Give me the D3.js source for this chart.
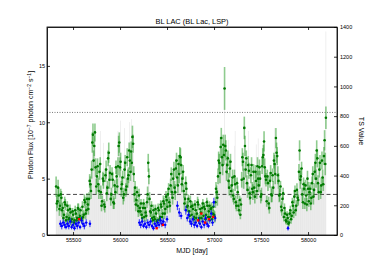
<!DOCTYPE html>
<html lang="en">
<head>
  <meta charset="utf-8">
  <title>BL LAC light curve</title>
  <script src="https://cdnjs.cloudflare.com/ajax/libs/d3/7.8.5/d3.min.js"></script>
  <style>
    body { margin: 0; background: #fff; }
    svg { font-family: "Liberation Sans", Arial, sans-serif; }
    .axis path, .axis line { stroke: #000; stroke-width: 0.8; }
    .axis text { font-size: 5.5px; fill: #000; }
    .lbl { font-size: 7px; fill: #000; }
  </style>
</head>
<body>
<svg id="svg" width="374" height="262"></svg>
<script>
  // green points, first set: MJD bins, flux (1e-7 ph cm-2 s-1), flux error, TS
  var mjd = [55320,55334,55348,55362,55376,55390,55404,55418,55432,55446,
    55460,55474,55488,55502,55516,55530,55544,55558,55572,55586,
    55600,55614,55628,55642,55656,55670,55684,55698,55712,55726,
    55740,55754,55768,55782,55796,55810,55824,55838,55852,55866,
    55880,55894,55908,55922,55936,55950,55964,55978,55992,56006,
    56020,56034,56048,56062,56076,56090,56104,56118,56132,56146,
    56160,56174,56188,56202,56216,56230,56244,56258,56272,56286,
    56300,56314,56328,56342,56356,56370,56384,56398,56412,56426,
    56440,56454,56468,56482,56496,56510,56524,56538,56552,56566,
    56580,56594,56608,56622,56636,56650,56664,56678,56692,56706,
    56720,56734,56748,56762,56776,56790,56804,56818,56832,56846,
    56860,56874,56888,56902,56916,56930,56944,56958,56972,56986,
    57000,57014,57028,57042,57056,57070,57084,57098,57112,57126,
    57140,57154,57168,57182,57196,57210,57224,57238,57252,57266,
    57280,57294,57308,57322,57336,57350,57364,57378,57392,57406,
    57420,57434,57448,57462,57476,57490,57504,57518,57532,57546,
    57560,57574,57588,57602,57616,57630,57644,57658,57672,57686,
    57700,57714,57728,57742,57756,57770,57784,57798,57812,57826,
    57840,57854,57868,57882,57896,57910,57924,57938,57952,57966,
    57980,57994,58008,58022,58036,58050,58064,58078,58092,58106,
    58120,58134,58148,58162,58176,58190];
  var flux = [4.3,3.0,3.5,2.6,3.3,2.4,1.8,2.7,1.6,2.2,
    1.5,2.0,1.4,1.8,1.3,1.9,1.5,2.3,1.7,1.4,
    2.5,1.8,2.9,2.2,2.7,3.2,4.5,5.8,8.9,7.9,
    6.0,5.2,4.5,5.6,3.8,3.0,4.8,2.5,5.8,4.2,
    7.3,5.5,3.6,4.9,2.8,3.8,5.2,6.1,8.2,6.5,
    4.5,3.3,5.8,4.0,6.9,5.3,6.6,7.4,8.7,5.4,
    4.2,3.1,2.6,3.5,2.1,1.8,2.4,1.6,2.0,2.9,
    6.4,3.2,2.0,1.5,2.2,1.4,1.9,1.3,2.2,1.6,
    2.5,1.9,2.8,2.3,3.1,3.6,2.9,4.4,3.8,5.0,
    4.2,5.9,5.1,6.3,7.0,6.2,5.0,3.9,3.2,4.1,
    2.6,2.1,3.0,1.8,2.3,1.6,2.2,1.9,2.7,1.5,
    2.0,2.4,1.7,2.3,1.8,2.6,2.1,1.6,2.4,1.9,
    1.8,2.9,3.8,5.2,6.4,7.8,6.9,8.0,13.0,7.5,
    6.2,4.8,5.9,3.9,5.1,3.2,4.5,2.6,3.8,2.2,
    1.8,4.9,6.5,9.5,5.8,4.6,6.2,3.7,5.3,4.1,
    5.6,3.4,4.8,6.1,4.4,5.0,3.6,6.9,8.3,5.2,
    3.0,4.6,2.4,5.5,3.5,4.2,6.3,8.6,7.0,4.8,
    3.6,2.5,3.2,1.6,1.9,1.2,1.5,1.1,2.2,1.7,
    2.6,3.4,2.2,4.0,3.1,7.5,5.2,3.6,4.5,2.8,
    3.5,5.0,3.0,4.1,3.3,5.4,4.0,6.4,7.5,4.6,
    5.8,3.8,6.6,4.5,8.4,10.4];
  var fluxErr = [0.9,0.6,0.7,0.5,0.6,0.5,0.4,0.5,0.4,0.5,
    0.4,0.4,0.3,0.4,0.3,0.4,0.4,0.5,0.4,0.3,
    0.5,0.4,0.5,0.4,0.5,0.6,0.7,0.8,1.0,0.9,
    0.8,0.7,0.6,0.7,0.6,0.5,0.7,0.5,0.8,0.6,
    0.9,0.7,0.6,0.7,0.5,0.6,0.7,0.8,0.9,0.8,
    0.7,0.6,0.8,0.6,0.8,0.7,0.8,0.9,1.0,0.7,
    0.6,0.5,0.5,0.6,0.4,0.4,0.5,0.4,0.4,0.5,
    0.8,0.6,0.4,0.4,0.5,0.3,0.4,0.3,0.4,0.4,
    0.5,0.4,0.5,0.5,0.5,0.6,0.5,0.6,0.6,0.7,
    0.6,0.8,0.7,0.8,0.8,0.8,0.7,0.6,0.5,0.6,
    0.5,0.4,0.5,0.4,0.5,0.4,0.5,0.4,0.5,0.4,
    0.4,0.5,0.4,0.5,0.4,0.5,0.4,0.4,0.5,0.4,
    0.4,0.5,0.6,0.7,0.8,0.9,0.8,0.9,1.9,0.9,
    0.8,0.7,0.8,0.6,0.7,0.5,0.6,0.5,0.6,0.4,
    0.4,0.7,0.8,1.0,0.7,0.7,0.8,0.6,0.7,0.6,
    0.7,0.6,0.7,0.8,0.6,0.7,0.6,0.8,0.9,0.7,
    0.5,0.7,0.5,0.7,0.6,0.6,0.8,0.9,0.8,0.7,
    0.6,0.5,0.5,0.4,0.4,0.3,0.4,0.3,0.4,0.4,
    0.5,0.6,0.5,0.6,0.5,0.9,0.7,0.6,0.6,0.5,
    0.6,0.7,0.5,0.6,0.5,0.7,0.6,0.8,0.9,0.7,
    0.7,0.6,0.8,0.6,0.9,1.0];
  var tsVal = [300,200,250,170,230,160,120,190,110,150,
    100,140,90,130,80,130,100,170,120,90,
    180,120,210,150,200,240,340,430,690,600,
    450,390,330,420,280,220,620,180,450,310,
    560,410,270,370,200,280,390,700,640,770,
    340,240,720,300,520,400,760,570,680,410,
    310,230,190,260,150,120,170,110,140,210,
    480,230,140,100,160,90,130,80,150,110,
    180,130,200,160,230,270,210,330,280,380,
    310,450,380,480,540,470,370,290,230,300,
    180,140,210,120,160,100,150,130,190,100,
    140,170,110,160,120,180,140,100,170,130,
    120,210,280,390,490,600,530,620,980,570,
    470,640,450,290,380,230,700,180,280,150,
    120,370,500,730,440,340,700,270,400,300,
    420,250,610,470,330,370,260,530,640,390,
    210,340,170,420,250,310,720,660,540,360,
    260,170,230,100,130,70,100,60,150,110,
    180,250,150,300,220,580,390,260,340,200,
    250,380,210,300,240,410,290,490,580,340,
    440,270,510,330,650,1370];

  // green points, second set: bins 7 days after each of the first set
  var flux2 = [2.8,4.2,2.3,3.6,2.2,1.5,2.9,1.3,2.6,1.4,
    2.3,1.2,2.1,1.1,2.2,1.3,2.4,1.5,2.2,1.5,
    1.6,3.1,1.9,3.2,2.3,4.8,3.9,8.2,6.6,9.1,
    4.3,6.1,3.9,6.3,2.6,5.0,2.7,5.3,3.7,6.8,
    4.9,3.2,5.4,2.9,4.4,6.0,4.3,7.9,6.0,4.1,
    5.1,3.6,6.4,4.3,5.0,7.5,5.6,6.4,8.1,3.6,
    2.7,3.8,2.1,2.4,2.8,1.5,2.8,2.4,1.7,3.6,
    5.2,2.1,2.6,1.3,1.6,2.3,1.2,2.4,1.4,2.7,
    1.6,3.0,1.9,3.4,2.5,4.1,2.6,5.4,3.3,5.8,
    3.8,6.6,4.4,5.4,6.9,4.5,5.6,2.8,4.6,2.5,
    3.2,1.7,2.5,2.6,1.4,2.7,1.5,2.9,1.4,2.3,
    1.5,2.8,2.5,1.4,2.9,1.6,2.6,2.3,1.4,2.5,
    1.6,4.1,3.3,6.6,5.5,8.6,6.2,7.1,7.9,5.6,
    6.8,4.2,6.5,4.4,3.5,5.2,2.9,4.6,2.6,3.1,
    2.7,6.9,5.0,7.9,6.8,4.0,5.7,3.3,6.2,3.8,
    4.2,5.6,3.9,5.0,6.0,3.4,6.1,7.1,6.0,4.9,
    5.2,2.8,4.8,3.6,5.3,6.6,5.4,7.3,5.3,3.5,
    4.3,2.2,3.7,2.4,1.3,1.8,1.0,1.9,1.4,2.9,
    2.0,3.9,2.6,3.3,5.6,4.9,5.9,2.9,4.1,4.4,
    2.7,4.1,3.8,2.8,4.6,3.4,5.6,5.0,6.8,3.8,
    6.4,4.4,5.1,7.0,6.3];
  var fluxErr2 = [0.7,0.7,0.6,0.5,0.6,0.4,0.5,0.4,0.4,0.4,
    0.4,0.4,0.3,0.4,0.4,0.4,0.4,0.4,0.3,0.4,
    0.4,0.5,0.5,0.5,0.5,0.6,0.7,0.9,0.9,0.8,
    0.7,0.7,0.7,0.6,0.5,0.6,0.5,0.6,0.7,0.7,
    0.8,0.6,0.6,0.6,0.5,0.6,0.7,0.9,0.9,0.7,
    0.6,0.6,0.7,0.7,0.8,0.7,0.8,0.9,0.8,0.7,
    0.6,0.5,0.5,0.5,0.4,0.4,0.4,0.4,0.5,0.7,
    0.7,0.5,0.4,0.4,0.4,0.4,0.3,0.4,0.4,0.4,
    0.4,0.5,0.5,0.5,0.6,0.5,0.6,0.6,0.6,0.7,
    0.7,0.7,0.7,0.8,0.8,0.7,0.6,0.6,0.6,0.5,
    0.4,0.5,0.5,0.4,0.4,0.4,0.4,0.5,0.4,0.4,
    0.4,0.4,0.4,0.4,0.4,0.5,0.4,0.4,0.4,0.4,
    0.5,0.6,0.7,0.8,0.9,0.9,0.9,0.9,1.0,0.8,
    0.7,0.7,0.7,0.6,0.6,0.6,0.6,0.5,0.5,0.4,
    0.6,0.8,0.9,0.9,0.7,0.7,0.7,0.6,0.7,0.7,
    0.7,0.6,0.7,0.7,0.7,0.6,0.7,0.9,0.8,0.6,
    0.6,0.6,0.6,0.7,0.6,0.7,0.9,0.9,0.8,0.6,
    0.5,0.5,0.5,0.4,0.3,0.3,0.3,0.4,0.4,0.4,
    0.5,0.5,0.5,0.6,0.7,0.8,0.6,0.6,0.6,0.5,
    0.6,0.6,0.6,0.6,0.6,0.7,0.7,0.8,0.8,0.7,
    0.7,0.7,0.7,0.8,1.0];
  var tsVal2 = [200,300,160,250,150,110,210,90,180,100,
    160,80,150,80,160,90,170,110,150,110,
    110,220,130,230,160,340,280,590,470,650,
    300,430,280,700,180,350,190,380,260,490,
    350,230,380,200,310,430,300,570,430,290,
    360,250,460,300,350,540,400,780,580,250,
    190,270,150,170,200,100,200,170,120,250,
    370,150,180,90,110,160,80,170,100,190,
    110,210,130,240,180,290,180,390,230,420,
    270,470,310,390,500,320,400,200,330,180,
    230,120,180,180,100,190,100,210,100,160,
    100,200,180,100,210,110,180,160,100,180,
    110,290,230,480,390,620,450,510,570,400,
    490,300,470,310,250,600,200,330,180,220,
    190,500,360,570,490,280,410,230,450,270,
    300,400,280,650,430,240,440,510,430,350,
    370,200,340,250,380,470,390,530,380,250,
    310,150,260,170,90,130,70,130,100,210,
    140,280,180,230,400,350,420,200,290,310,
    190,290,270,200,330,240,400,360,490,270,
    460,310,360,500,450];

  // blue points
  var blueMjd = [55365,55380,55395,55410,55425,55440,55455,55470,55485,55500,
    55515,55530,55545,55560,55575,55590,55605,55620,55640,55680,
    56205,56220,56235,56250,56265,56280,56295,56310,56325,56340,
    56355,56370,56385,56400,56415,56430,56445,56460,56480,56500,
    56610,56630,56650,56700,56715,56730,56745,56760,56775,56790,
    56805,56820,56835,56850,56865,56880,56895,56910,56925,56940,
    56955,56970,56985,56998,57012,57787];
  var blueFlux = [1.0,0.8,1.1,0.9,0.7,1.0,0.8,1.2,0.7,0.9,
    0.6,1.0,0.8,1.1,0.7,1.3,1.0,0.8,1.1,1.0,
    1.1,0.9,1.2,0.8,1.0,0.7,1.1,0.9,1.2,0.8,
    0.6,1.0,0.8,1.1,0.9,1.3,1.0,1.2,0.9,1.4,
    2.6,2.0,1.7,2.2,1.5,1.8,1.2,1.0,1.4,0.9,
    1.1,0.8,1.3,1.0,0.7,1.2,0.9,1.5,1.0,0.8,
    1.3,1.9,1.1,2.9,1.5,0.6];
  var blueErr = [0.3,0.3,0.3,0.3,0.2,0.3,0.3,0.3,0.2,0.3,
    0.2,0.3,0.3,0.3,0.2,0.3,0.3,0.3,0.3,0.3,
    0.3,0.3,0.3,0.2,0.3,0.2,0.3,0.3,0.3,0.2,
    0.2,0.3,0.2,0.3,0.3,0.3,0.3,0.3,0.3,0.3,
    0.4,0.4,0.3,0.4,0.3,0.3,0.3,0.3,0.3,0.3,
    0.3,0.2,0.3,0.3,0.2,0.3,0.3,0.3,0.3,0.2,
    0.3,0.3,0.3,0.4,0.3,0.2];

  // red points
  var redMjd = [55565,56390,56455,56830,56865,56905,56945,56990];
  var redFlux = [1.4,0.6,0.9,1.3,1.9,1.1,1.4,1.6];

  var meanFlux = 3.6;     // dashed line
  var tsLevel = 825;      // dotted line
  var xTicks = [55500,56000,56500,57000,57500,58000];
  var fluxTicks = [0,5,10,15];
  var tsTicks = [0,200,400,600,800,1000,1200,1400];

  var L = 47, R = 337, T = 27, B = 235;
  var svg = d3.select("#svg");

  var x = d3.scaleLinear().domain([55223, 58308]).range([L, R]);
  var y = d3.scaleLinear().domain([0, 18.45]).range([B, T]);
  var yTs = d3.scaleLinear().domain([0, 1400]).range([B, T]);

  var pts = mjd.map(function (m, i) {
    return { t: m, f: flux[i], e: fluxErr[i], ts: tsVal[i] };
  });
  flux2.forEach(function (f, i) {
    pts.push({ t: mjd[i] + 7, f: f, e: fluxErr2[i], ts: tsVal2[i] });
  });
  pts.sort(function (a, b) { return a.t - b.t; });

  // TS bars
  svg.append("g").selectAll("rect").data(pts).enter().append("rect")
    .attr("x", function (d) { return x(d.t - 2.5); })
    .attr("width", function (d) { return x(d.t + 2.5) - x(d.t - 2.5); })
    .attr("y", function (d) { return yTs(d.ts); })
    .attr("height", function (d) { return B - yTs(d.ts); })
    .attr("fill", "#dcdcdc");

  // reference lines
  svg.append("line").attr("x1", L).attr("x2", R)
    .attr("y1", yTs(tsLevel)).attr("y2", yTs(tsLevel))
    .attr("stroke", "#555").attr("stroke-width", 0.8).attr("stroke-dasharray", "1,1.5");
  svg.append("line").attr("x1", L).attr("x2", R)
    .attr("y1", y(meanFlux)).attr("y2", y(meanFlux))
    .attr("stroke", "#333").attr("stroke-width", 0.9).attr("stroke-dasharray", "4,2.5");

  // green points
  var g = svg.append("g");
  g.selectAll("line.ey").data(pts).enter().append("line")
    .attr("x1", function (d) { return x(d.t); }).attr("x2", function (d) { return x(d.t); })
    .attr("y1", function (d) { return y(d.f - d.e); })
    .attr("y2", function (d) { return y(d.f + d.e); })
    .attr("stroke", "#1f9a1f").attr("stroke-opacity", 0.5).attr("stroke-width", 1.6);
  g.selectAll("line.ex").data(pts).enter().append("line")
    .attr("x1", function (d) { return x(d.t - 7); }).attr("x2", function (d) { return x(d.t + 7); })
    .attr("y1", function (d) { return y(d.f); }).attr("y2", function (d) { return y(d.f); })
    .attr("stroke", "#008000").attr("stroke-width", 0.8);
  g.selectAll("circle").data(pts).enter().append("circle")
    .attr("cx", function (d) { return x(d.t); })
    .attr("cy", function (d) { return y(d.f); })
    .attr("r", 1.3).attr("fill", "#007a00");

  // blue points
  var bl = blueMjd.map(function (m, i) { return { t: m, f: blueFlux[i], e: blueErr[i] }; });
  var gb = svg.append("g");
  gb.selectAll("line.ey").data(bl).enter().append("line")
    .attr("x1", function (d) { return x(d.t); }).attr("x2", function (d) { return x(d.t); })
    .attr("y1", function (d) { return y(d.f - d.e); })
    .attr("y2", function (d) { return y(d.f + d.e); })
    .attr("stroke", "#0000ff").attr("stroke-opacity", 0.8).attr("stroke-width", 1);
  gb.selectAll("line.ex").data(bl).enter().append("line")
    .attr("x1", function (d) { return x(d.t - 12); }).attr("x2", function (d) { return x(d.t + 12); })
    .attr("y1", function (d) { return y(d.f); }).attr("y2", function (d) { return y(d.f); })
    .attr("stroke", "#0000ff").attr("stroke-width", 1);
  gb.selectAll("circle").data(bl).enter().append("circle")
    .attr("cx", function (d) { return x(d.t); })
    .attr("cy", function (d) { return y(d.f); })
    .attr("r", 1.2).attr("fill", "#0000ff");

  // red points
  svg.append("g").selectAll("rect").data(redMjd).enter().append("rect")
    .attr("x", function (d) { return x(d) - 1.2; })
    .attr("y", function (d, i) { return y(redFlux[i]) - 1.2; })
    .attr("width", 2.4).attr("height", 2.4).attr("fill", "#ff0000");

  // axes, ticks inward
  svg.append("g").attr("class", "axis").attr("transform", "translate(0," + B + ")")
    .call(d3.axisBottom(x).tickValues(xTicks).tickFormat(d3.format("d"))
      .tickSizeInner(-3).tickSizeOuter(0).tickPadding(3));
  svg.append("g").attr("class", "axis").attr("transform", "translate(0," + T + ")")
    .call(d3.axisTop(x).tickValues(xTicks).tickFormat("")
      .tickSizeInner(-3).tickSizeOuter(0));
  svg.append("g").attr("class", "axis").attr("transform", "translate(" + L + ",0)")
    .call(d3.axisLeft(y).tickValues(fluxTicks).tickSizeInner(-3).tickSizeOuter(0).tickPadding(2));
  svg.append("g").attr("class", "axis").attr("transform", "translate(" + R + ",0)")
    .call(d3.axisRight(yTs).tickValues(tsTicks).tickFormat(d3.format("d"))
      .tickSizeInner(-3).tickSizeOuter(0).tickPadding(3));

  // frame
  svg.append("rect").attr("x", L).attr("y", T).attr("width", R - L).attr("height", B - T)
    .attr("fill", "none").attr("stroke", "#000").attr("stroke-width", 0.8);

  // labels
  svg.append("text").attr("class", "lbl").attr("x", (L + R) / 2).attr("y", 23.5)
    .attr("text-anchor", "middle").style("font-size", "7.4px").text("BL LAC (BL Lac, LSP)");
  svg.append("text").attr("class", "lbl").attr("x", (L + R) / 2).attr("y", 253)
    .attr("text-anchor", "middle").text("MJD [day]");
  svg.append("text").attr("class", "lbl").attr("transform", "translate(359," + ((T + B) / 2) + ") rotate(90)")
    .attr("text-anchor", "middle").text("TS Value");

  var yl = svg.append("text").attr("class", "lbl")
    .attr("transform", "translate(33," + ((T + B) / 2 - 6) + ") rotate(-90)")
    .attr("text-anchor", "middle");
  yl.append("tspan").text("Photon Flux [10");
  yl.append("tspan").attr("dy", -2.5).style("font-size", "5px").text("\u22127");
  yl.append("tspan").attr("dy", 2.5).text(" photon cm");
  yl.append("tspan").attr("dy", -2.5).style("font-size", "5px").text("\u22122");
  yl.append("tspan").attr("dy", 2.5).text(" s");
  yl.append("tspan").attr("dy", -2.5).style("font-size", "5px").text("\u22121");
  yl.append("tspan").attr("dy", 2.5).text("]");
</script>
</body>
</html>
